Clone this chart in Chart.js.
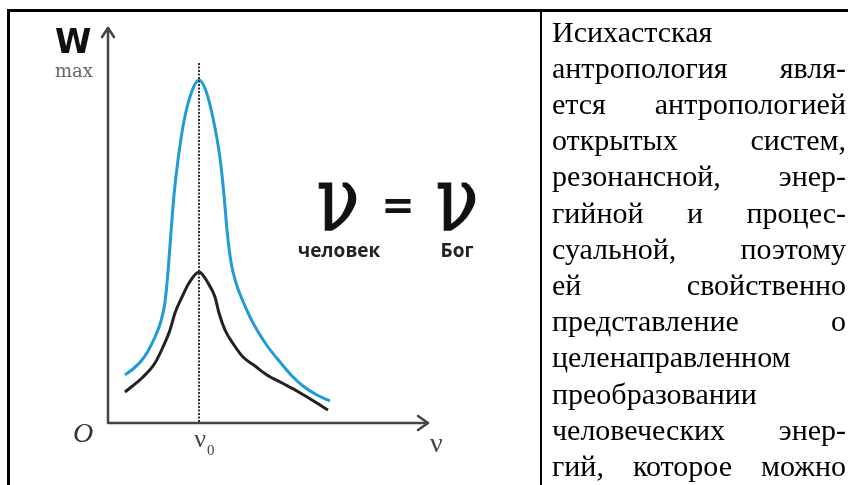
<!DOCTYPE html>
<html>
<head>
<meta charset="utf-8">
<script src="https://cdn.jsdelivr.net/npm/chart.js@4.4.1/dist/chart.umd.min.js"></script>
<style>
  html, body { margin: 0; padding: 0; background: #fff; }
  #page { position: relative; width: 848px; height: 485px; overflow: hidden; background: #fff; }
  #chart { position: absolute; left: 0; top: 0; }
  .rule { position: absolute; background: #000; }
  #txt {
    position: absolute; left: 552px; top: 13.5px; width: 294px;
    font-family: "Liberation Serif", "Times New Roman", serif;
    font-size: 30px; line-height: 36.2px; color: #000;
  }
  #txt div { white-space: nowrap; }
  #txt .j { text-align: justify; text-align-last: justify; white-space: normal; }
</style>
</head>
<body>
<div id="page">
  <canvas id="chart" width="540" height="485"></canvas>
  <div class="rule" style="left:7px;top:9px;width:841px;height:2.5px"></div>
  <div class="rule" style="left:7px;top:9px;width:2.5px;height:476px"></div>
  <div class="rule" style="left:539.5px;top:9px;width:2.5px;height:476px"></div>
  <div id="txt">
    <div>Исихастская</div>
    <div class="j">антропология явля-</div>
    <div class="j">ется антропологией</div>
    <div class="j">открытых систем,</div>
    <div class="j">резонансной, энер-</div>
    <div class="j">гийной и процес-</div>
    <div class="j">суальной, поэтому</div>
    <div class="j">ей свойственно</div>
    <div class="j">представление о</div>
    <div>целенаправленном</div>
    <div>преобразовании</div>
    <div class="j">человеческих энер-</div>
    <div class="j">гий, которое можно</div>
  </div>
</div>
<script>
// resonance curves, arbitrary units (x 0..320 along the axis, W 0..395 up to the arrow)
const blueX = [17, 25, 34, 40, 47, 53, 57, 60, 63, 66, 70, 76, 84, 91, 98, 105, 112, 116, 119, 123, 128, 134, 142, 149, 160, 172, 184, 195, 209, 222];
const blueY = [48, 54, 63, 72, 86, 102, 121, 151, 191, 228, 263, 302, 332, 343, 332, 305, 265, 228, 193, 161, 140, 124, 106, 93, 76, 61, 47, 37, 28, 22];
const blackX = [17, 35, 47, 55, 62, 67, 74, 81, 91, 100, 107, 111, 117, 126, 135, 147, 159, 174, 189, 204, 220];
const blackY = [31, 46, 60, 76, 93, 110, 126, 140, 151, 140, 126, 110, 93, 78, 66, 57, 48, 40, 32, 23, 13];
const nu0 = 91;
const xMax = 320, yMax = 395;
const axisLabels = { y: 'W', yTop: 'max', origin: 'O', x: 'ν', tick: 'ν', tickSub: '0' };
const formula = { left: 'ν', right: 'ν', leftSub: 'человек', rightSub: 'Бог' };

function pts(xs, ys) {
  return xs.map((x, i) => ({ x: x, y: ys[i] }));
}

function bigNu(ctx, ch, x, y) {
  ctx.save();
  ctx.translate(x, y);
  ctx.scale(0.78, 1);
  ctx.lineWidth = 1.5;
  ctx.strokeStyle = '#111';
  ctx.strokeText(ch, 0, 0);
  ctx.fillText(ch, 0, 0);
  ctx.restore();
}

const decor = {
  id: 'decor',
  beforeDatasetsDraw(chart) {
    const ctx = chart.ctx, a = chart.chartArea;
    ctx.save();
    ctx.strokeStyle = '#444';
    ctx.lineWidth = 2.5;
    ctx.lineCap = 'round';
    ctx.lineJoin = 'round';
    ctx.beginPath();
    ctx.moveTo(a.left, a.top);
    ctx.lineTo(a.left, a.bottom);
    ctx.lineTo(a.right, a.bottom);
    ctx.stroke();
    // arrow heads
    ctx.beginPath();
    ctx.moveTo(a.left - 6, a.top + 9);
    ctx.lineTo(a.left, a.top);
    ctx.lineTo(a.left + 6, a.top + 9);
    ctx.moveTo(a.right - 10, a.bottom - 7);
    ctx.lineTo(a.right, a.bottom);
    ctx.lineTo(a.right - 10, a.bottom + 7);
    ctx.stroke();
    ctx.restore();
  },
  afterDatasetsDraw(chart) {
    const ctx = chart.ctx, a = chart.chartArea;
    const px = chart.scales.x.getPixelForValue(nu0);
    ctx.save();
    ctx.strokeStyle = '#333';
    ctx.lineWidth = 2;
    ctx.setLineDash([2, 1.5]);
    ctx.beginPath();
    ctx.moveTo(px, 63);
    ctx.lineTo(px, a.bottom);
    ctx.stroke();
    ctx.setLineDash([]);

    ctx.textBaseline = 'alphabetic';
    ctx.fillStyle = '#111';
    ctx.font = 'bold 33px "DejaVu Sans"';
    ctx.fillText(axisLabels.y, 55, 53);
    ctx.fillStyle = '#666';
    ctx.font = '18px "DejaVu Serif"';
    ctx.fillText(axisLabels.yTop, 55, 77);
    ctx.fillStyle = '#333';
    ctx.font = 'italic 28px "Liberation Serif"';
    ctx.fillText(axisLabels.origin, 73, 442);
    ctx.fillStyle = '#444';
    ctx.font = '26px "Liberation Serif"';
    ctx.textAlign = 'right';
    ctx.fillText(axisLabels.tick, px + 7, 447);
    ctx.textAlign = 'left';
    ctx.font = '15px "Liberation Serif"';
    ctx.fillText(axisLabels.tickSub, px + 8, 455);
    ctx.font = '28px "Liberation Serif"';
    ctx.fillText(axisLabels.x, 430, 452);

    // formula
    ctx.fillStyle = '#111';
    ctx.textAlign = 'center';
    ctx.font = '90px "DejaVu Serif"';
    bigNu(ctx, formula.left, 338, 230);
    bigNu(ctx, formula.right, 457, 230);
    ctx.font = 'bold 40px "DejaVu Sans"';
    ctx.fillText('=', 398, 219);
    ctx.fillStyle = '#222';
    ctx.font = 'bold 19px "Open Sans"';
    ctx.fillText(formula.leftSub, 339, 257);
    ctx.fillText(formula.rightSub, 457, 257);
    ctx.restore();
  }
};

new Chart(document.getElementById('chart'), {
  type: 'line',
  data: {
    datasets: [
      {
        label: 'blue',
        data: pts(blueX, blueY),
        borderColor: '#1f9bd7',
        borderWidth: 3,
        pointRadius: 0,
        cubicInterpolationMode: 'monotone',
        fill: false
      },
      {
        label: 'black',
        data: pts(blackX, blackY),
        borderColor: '#222',
        borderWidth: 3,
        pointRadius: 0,
        cubicInterpolationMode: 'monotone',
        fill: false
      }
    ]
  },
  options: {
    responsive: false,
    animation: false,
    layout: { padding: { left: 108, right: 112, top: 28, bottom: 62 } },
    plugins: { legend: { display: false }, tooltip: { enabled: false } },
    scales: {
      x: { type: 'linear', min: 0, max: xMax, display: false },
      y: { min: 0, max: yMax, display: false }
    }
  },
  plugins: [decor]
});
</script>
</body>
</html>
